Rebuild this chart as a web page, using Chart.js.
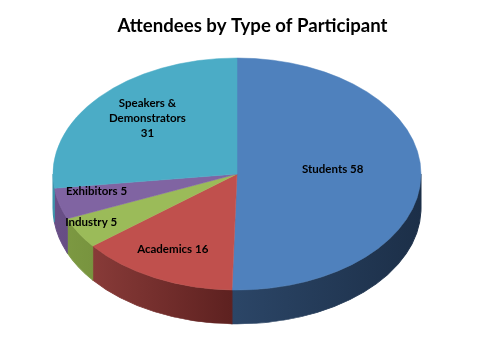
<!DOCTYPE html>
<html>
<head>
<meta charset="utf-8">
<script src="https://cdn.jsdelivr.net/npm/chart.js@4.4.1/dist/chart.umd.min.js"></script>
<style>
  html, body { margin: 0; padding: 0; background: #ffffff; }
  #wrap { width: 480px; height: 349px; position: relative; }
</style>
</head>
<body>
<div id="wrap"><canvas id="c" width="480" height="349"></canvas></div>
<script>
// ---- data ----
const categories = ['Students', 'Academics', 'Industry', 'Exhibitors', 'Speakers & Demonstrators'];
const counts = [58, 16, 5, 5, 31];
const chartTitle = 'Attendees by Type of Participant';

// ---- styles ----
const topColors = ['#4F81BD', '#C0504D', '#9BBB59', '#8064A2', '#4BACC6'];
const sideStops = [
  ['#3A5E8A', '#2B4566', '#1C2F48'],
  ['#94423F', '#5C201F', '#3A1413'],
  ['#7E9B43', '#627A2E', '#4E6222'],
  ['#694F87', '#4F3C69', '#3F2F55'],
  ['#3D93AB', '#2D7286', '#205766']
];
const labelRadius = [0.52, 0.78, 0.92, 0.79, 0.65];

const view = { cx: 237, cy: 174, rx: 184, ry: 116, depth: 34, labelShift: -6 };

function labelLinesFor(name, v) {
  if (name.indexOf(' & ') >= 0) {
    const parts = name.split(' & ');
    return [parts[0] + ' &', parts[1], String(v)];
  }
  return [name + ' ' + v];
}

function getGeom(chart) {
  const meta = chart.getDatasetMeta(0);
  const a0 = meta.data[0];
  const R = a0.outerRadius;
  return { meta, ax: a0.x, ay: a0.y, R, sx: view.rx / R, sy: view.ry / R };
}

const pie3d = {
  id: 'pie3d',
  beforeDatasetsDraw(chart) {
    const ctx = chart.ctx;
    const g = getGeom(chart);
    ctx.save();
    ctx.translate(view.cx, view.cy);
    ctx.scale(g.sx, g.sy);
    ctx.translate(-g.ax, -g.ay);
    const D = view.depth / g.sy;
    g.meta.data.forEach((arc, i) => {
      const s = Math.max(arc.startAngle, 0);
      const e = Math.min(arc.endAngle, Math.PI);
      if (e <= s) return;
      const grad = ctx.createLinearGradient(g.ax - g.R, 0, g.ax + g.R, 0);
      grad.addColorStop(0, sideStops[i][0]);
      grad.addColorStop(0.5, sideStops[i][1]);
      grad.addColorStop(1, sideStops[i][2]);
      ctx.beginPath();
      ctx.arc(g.ax, g.ay, g.R, s, e);
      ctx.lineTo(g.ax + g.R * Math.cos(e), g.ay + D + g.R * Math.sin(e));
      ctx.arc(g.ax, g.ay + D, g.R, e, s, true);
      ctx.closePath();
      ctx.fillStyle = grad;
      ctx.fill();
      ctx.strokeStyle = grad;
      ctx.lineWidth = 0.8;
      ctx.stroke();
    });
  },
  afterDatasetsDraw(chart) {
    chart.ctx.restore();
  },
  afterDraw(chart) {
    const ctx = chart.ctx;
    const g = getGeom(chart);
    ctx.save();
    ctx.font = 'bold 11.5px Lato, "Open Sans", sans-serif';
    ctx.fillStyle = '#000000';
    ctx.textAlign = 'center';
    ctx.textBaseline = 'middle';
    g.meta.data.forEach((arc, i) => {
      const mid = (arc.startAngle + arc.endAngle) / 2;
      const f = labelRadius[i];
      const X = view.cx + Math.cos(mid) * g.R * f * g.sx;
      const Y = view.cy + Math.sin(mid) * g.R * f * g.sy + view.labelShift;
      const lines = labelLinesFor(categories[i], counts[i]);
      const lh = 15;
      lines.forEach((t, k) => {
        ctx.fillText(t, X, Y + (k - (lines.length - 1) / 2) * lh);
      });
    });
    ctx.restore();
  }
};

new Chart(document.getElementById('c'), {
  type: 'pie',
  data: {
    labels: categories,
    datasets: [{
      data: counts,
      backgroundColor: topColors,
      borderColor: topColors,
      borderWidth: 0.5,
      clip: false
    }]
  },
  options: {
    responsive: false,
    animation: false,
    events: [],
    layout: { padding: { left: 25, right: 0, top: 0, bottom: 10 } },
    plugins: {
      legend: { display: false },
      tooltip: { enabled: false },
      title: {
        display: true,
        text: chartTitle,
        color: '#000000',
        font: { family: 'Lato, "Open Sans", sans-serif', size: 18.6, weight: 'bold' },
        padding: { top: 15, bottom: 10 }
      }
    }
  },
  plugins: [pie3d]
});
</script>
</body>
</html>
